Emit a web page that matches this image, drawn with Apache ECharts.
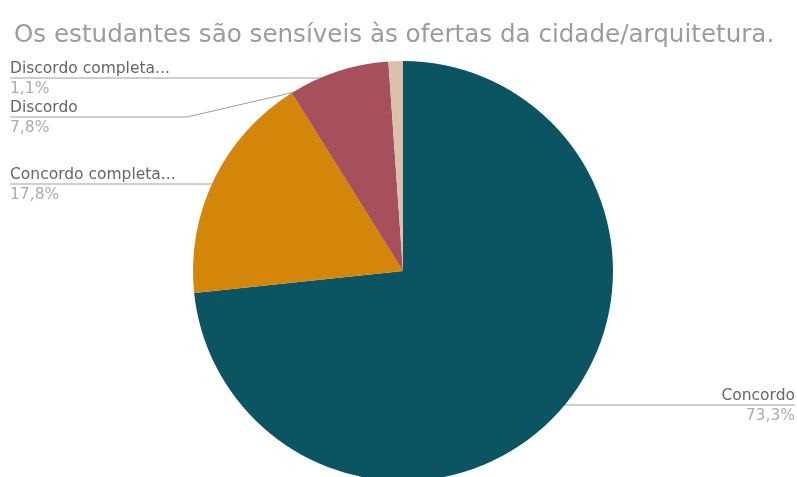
<!DOCTYPE html>
<html>
<head>
<meta charset="utf-8">
<script src="https://cdn.jsdelivr.net/npm/echarts@6/dist/echarts.min.js"></script>
<style>
  html, body { margin: 0; padding: 0; background: #fff; }
  #chart { width: 797px; height: 477px; }
</style>
</head>
<body>
<div id="chart"></div>
<script>
// Survey answers (number of respondents per answer)
const categories = ['Concordo', 'Concordo completamente', 'Discordo', 'Discordo completamente'];
const counts = [66, 16, 7, 1];
const titleText = 'Os estudantes são sensíveis às ofertas da cidade/arquitetura.';

const CX = 403, CY = 271, R = 210;
const FONT = 'DejaVu Sans, Verdana, sans-serif';
const sliceColors = ['#0b5563', '#d4860b', '#a5505a', '#dcc0ae'];
// where each callout sits: y of its rule, side, and where the rule bends
const callouts = [
  { y: 405, side: 'right', bendX: null },
  { y: 184, side: 'left', bendX: 214 },
  { y: 117, side: 'left', bendX: 187 },
  { y: 78, side: 'left', bendX: 322 }
];

function shortName(name) {
  return name.length > 18 ? name.slice(0, 17) + '...' : name;
}

const chart = echarts.init(document.getElementById('chart'), null, { renderer: 'canvas' });
chart.setOption({
  backgroundColor: '#ffffff',
  animation: false,
  title: {
    text: titleText,
    left: 9,
    top: 18,
    textStyle: {
      fontFamily: FONT,
      fontSize: 24.6,
      fontWeight: 'normal',
      color: '#9c9c9c'
    }
  },
  series: [{
    type: 'pie',
    center: [CX, CY],
    radius: R,
    startAngle: 90,
    clockwise: true,
    percentPrecision: 1,
    avoidLabelOverlap: false,
    data: categories.map((c, i) => ({
      name: c,
      value: counts[i],
      itemStyle: { color: sliceColors[i] }
    })),
    itemStyle: { borderWidth: 0 },
    label: {
      show: true,
      position: 'outside',
      formatter: p => '{n|' + shortName(p.name) + '}\n{p|' + p.percent.toFixed(1).replace('.', ',') + '%}',
      rich: {
        n: { fontFamily: FONT, fontSize: 15.5, color: '#656565', lineHeight: 20 },
        p: { fontFamily: FONT, fontSize: 15.5, color: '#acacac', lineHeight: 20 }
      }
    },
    labelLine: {
      show: true,
      showAbove: false,
      lineStyle: { color: '#9e9e9e', width: 1 }
    },
    labelLayout: function (p) {
      const s = callouts[p.dataIndex];
      const edge = p.labelLinePoints[0];
      const dot = [CX + (edge[0] - CX) * 0.95, CY + (edge[1] - CY) * 0.95];
      const endX = s.side === 'left' ? 10 : 795;
      const bendX = s.bendX == null ? dot[0] : s.bendX;
      return {
        x: endX,
        y: s.y + 1,
        align: s.side === 'left' ? 'left' : 'right',
        verticalAlign: 'middle',
        labelLinePoints: [dot, [bendX, s.y], [endX, s.y]]
      };
    }
  }]
});
</script>
</body>
</html>
